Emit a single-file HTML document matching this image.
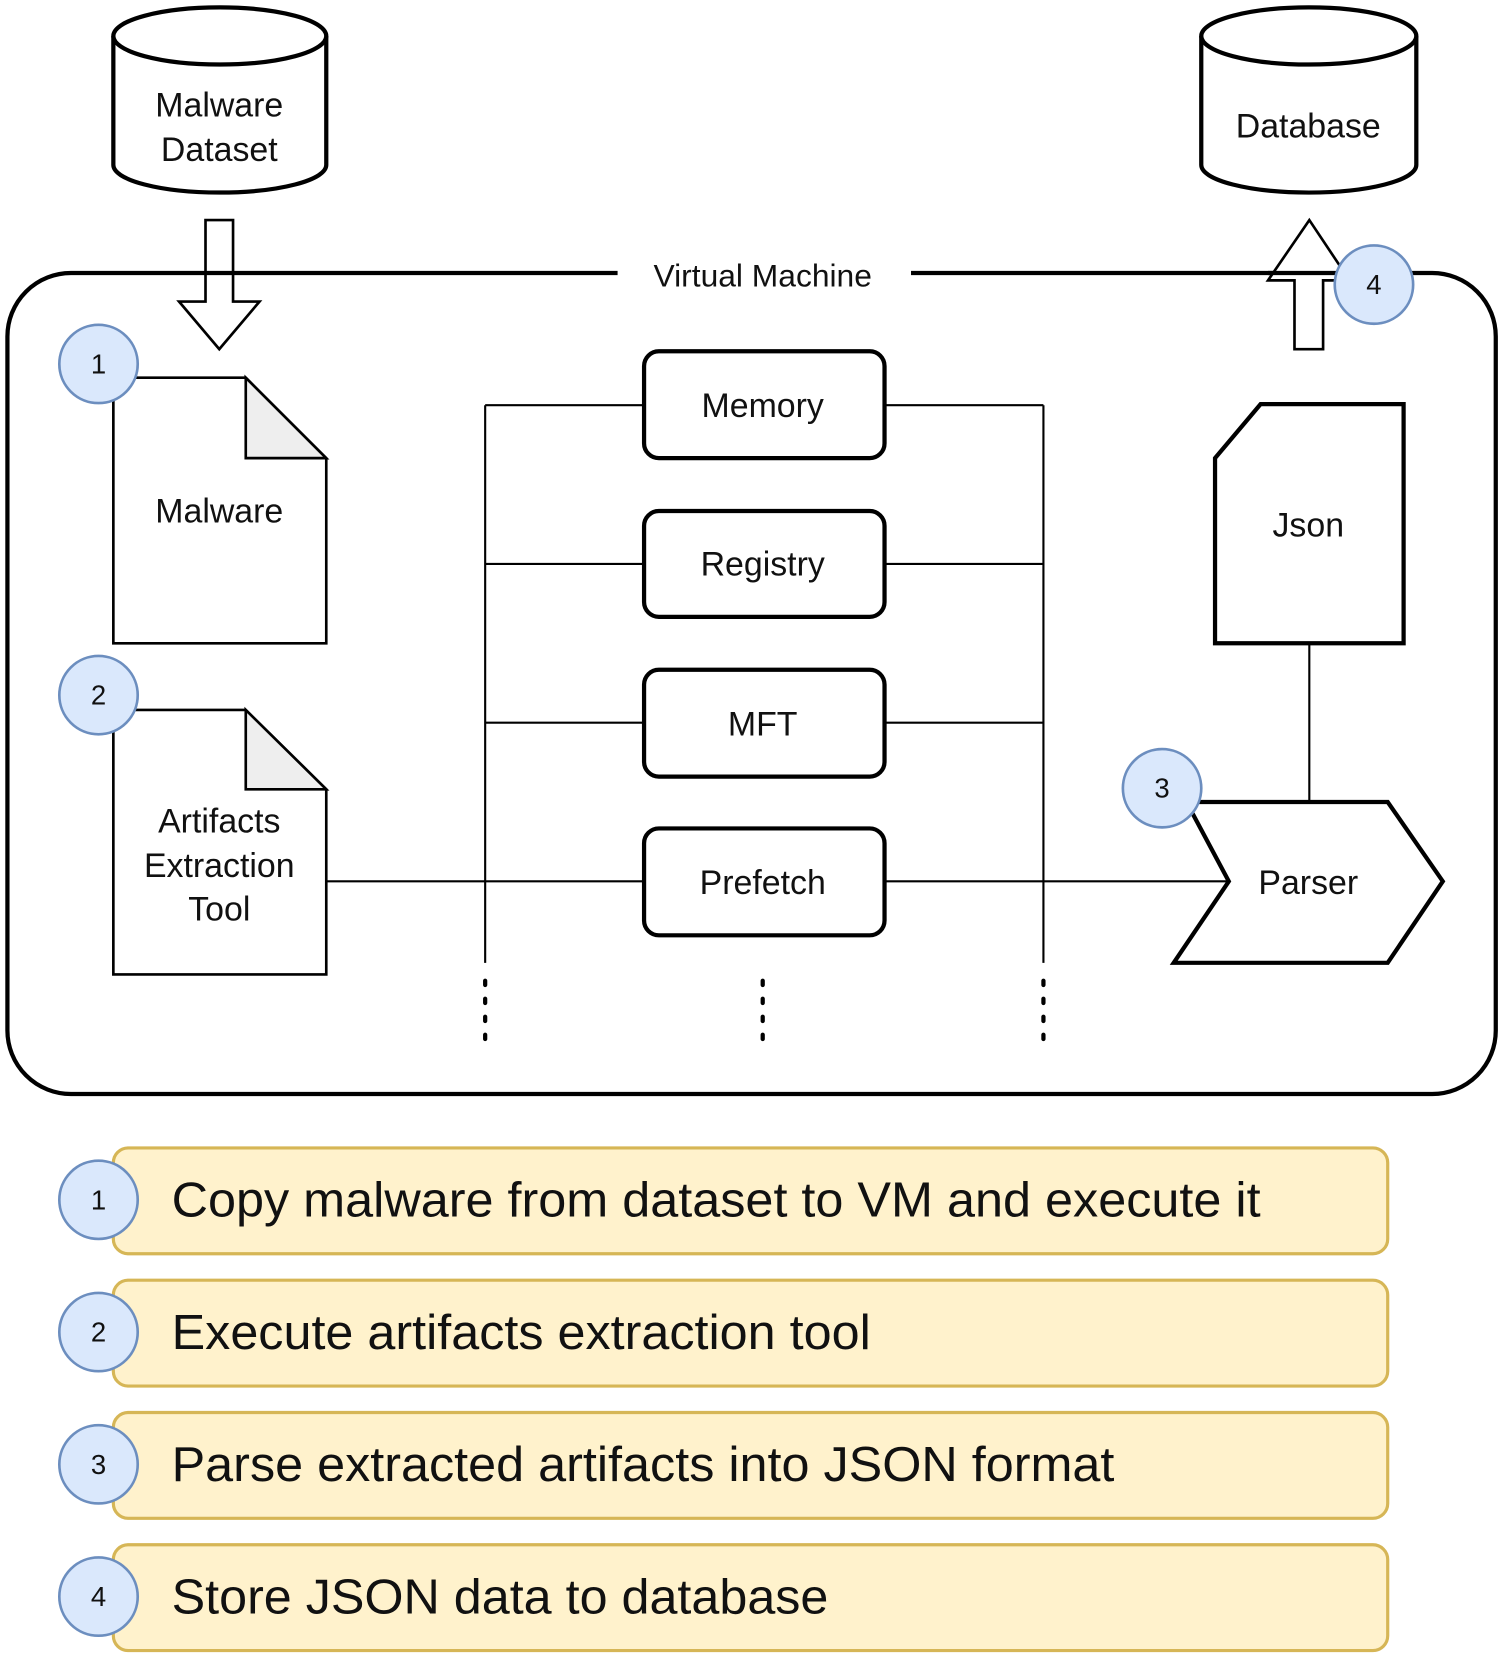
<!DOCTYPE html>
<html><head><meta charset="utf-8"><style>html,body{margin:0;padding:0;background:#fff}svg{display:block}</style></head>
<body>
<svg width="1500" height="1659" viewBox="0 0 1416 1568" preserveAspectRatio="none" xmlns="http://www.w3.org/2000/svg" font-family="Liberation Sans, Arial, sans-serif">
<g fill="#fff" stroke="#000" stroke-width="4">
  <!-- Malware Dataset cylinder -->
  <path d="M107 34 V156 A100.5 26 0 0 0 308 156 V34"/>
  <ellipse cx="207.5" cy="34" rx="100.5" ry="27"/>
  <!-- Database cylinder -->
  <path d="M1134 34 V156 A101.5 26 0 0 0 1337 156 V34"/>
  <ellipse cx="1235.5" cy="34" rx="101.5" ry="27"/>
</g>
<g font-size="32" fill="#111" text-anchor="middle">
  <text x="207" y="110">Malware</text>
  <text x="207" y="152">Dataset</text>
  <text x="1235" y="130">Database</text>
</g>
<!-- VM container -->
<path d="M583 258 H67 A60 60 0 0 0 7 318 V974 A60 60 0 0 0 67 1034 H1352 A60 60 0 0 0 1412 974 V318 A60 60 0 0 0 1352 258 H860" fill="none" stroke="#000" stroke-width="4"/>
<text x="720" y="271" font-size="30" text-anchor="middle" fill="#111">Virtual Machine</text>
<!-- arrows -->
<path d="M194 208 H220 V285 H245 L207 330 L169 285 H194 Z" fill="none" stroke="#000" stroke-width="2.5"/>
<path d="M1222 330 H1249 V265 H1274 L1236 208 L1197 265 H1222 Z" fill="#fff" stroke="#000" stroke-width="2.5"/>
<line x1="1197" y1="258" x2="1274" y2="258" stroke="#000" stroke-width="4"/>
<rect x="1224" y="262" width="23" height="66" fill="#fff"/>
<!-- connectors -->
<g stroke="#000" stroke-width="2" fill="none">
  <line x1="458" y1="383" x2="458" y2="910"/>
  <line x1="985" y1="383" x2="985" y2="910"/>
  <line x1="458" y1="383" x2="608" y2="383"/><line x1="835" y1="383" x2="985" y2="383"/>
  <line x1="458" y1="533" x2="608" y2="533"/><line x1="835" y1="533" x2="985" y2="533"/>
  <line x1="458" y1="683" x2="608" y2="683"/><line x1="835" y1="683" x2="985" y2="683"/>
  <line x1="308" y1="833" x2="608" y2="833"/><line x1="835" y1="833" x2="1160" y2="833"/>
  <line x1="1236" y1="608" x2="1236" y2="758"/>
</g>
<g stroke="#000" stroke-width="4" stroke-dasharray="4 13" stroke-linecap="round">
  <line x1="458" y1="927" x2="458" y2="992"/>
  <line x1="720" y1="927" x2="720" y2="992"/>
  <line x1="985" y1="927" x2="985" y2="992"/>
</g>
<!-- documents -->
<g stroke="#000" stroke-width="2.5">
  <path d="M107 357 H232 L308 433 V608 H107 Z" fill="#fff"/>
  <path d="M232 357 V433 H308 Z" fill="#eeeeee"/>
  <path d="M107 671 H232 L308 746 V921 H107 Z" fill="#fff"/>
  <path d="M232 671 V746 H308 Z" fill="#eeeeee"/>
</g>
<g font-size="32" fill="#111" text-anchor="middle">
  <text x="207" y="494">Malware</text>
  <text x="207" y="787">Artifacts</text>
  <text x="207" y="829">Extraction</text>
  <text x="207" y="870">Tool</text>
</g>
<!-- boxes -->
<g fill="#fff" stroke="#000" stroke-width="4">
  <rect x="608" y="332" width="227" height="101" rx="14"/>
  <rect x="608" y="483" width="227" height="100" rx="14"/>
  <rect x="608" y="633" width="227" height="101" rx="14"/>
  <rect x="608" y="783" width="227" height="101" rx="14"/>
  <path d="M1147 433 L1190 382 H1325 V608 H1147 Z"/>
  <path d="M1120 758 H1310 L1362 833 L1310 910 H1108 L1160 833 Z"/>
</g>
<g font-size="32" fill="#111" text-anchor="middle">
  <text x="720" y="394">Memory</text>
  <text x="720" y="544">Registry</text>
  <text x="720" y="695">MFT</text>
  <text x="720" y="845">Prefetch</text>
  <text x="1235" y="507">Json</text>
  <text x="1235" y="845">Parser</text>
</g>
<!-- bottom list -->
<g fill="#fff2cc" stroke="#d6b656" stroke-width="3">
  <rect x="107" y="1085" width="1203" height="100" rx="14"/>
  <rect x="107" y="1210" width="1203" height="100" rx="14"/>
  <rect x="107" y="1335" width="1203" height="100" rx="14"/>
  <rect x="107" y="1460" width="1203" height="100" rx="14"/>
</g>
<g font-size="46" fill="#111">
  <text x="162" y="1150" textLength="1028" lengthAdjust="spacingAndGlyphs">Copy malware from dataset to VM and execute it</text>
  <text x="162" y="1275" textLength="660" lengthAdjust="spacingAndGlyphs">Execute artifacts extraction tool</text>
  <text x="162" y="1400" textLength="890" lengthAdjust="spacingAndGlyphs">Parse extracted artifacts into JSON format</text>
  <text x="162" y="1525" textLength="620" lengthAdjust="spacingAndGlyphs">Store JSON data to database</text>
</g>
<!-- numbered circles -->
<g fill="#dae8fc" stroke="#6c8ebf" stroke-width="2.5">
  <circle cx="93" cy="344" r="37"/>
  <circle cx="93" cy="657" r="37"/>
  <circle cx="1097" cy="745" r="37"/>
  <circle cx="1297" cy="269" r="37"/>
  <circle cx="93" cy="1134" r="37"/>
  <circle cx="93" cy="1259" r="37"/>
  <circle cx="93" cy="1384" r="37"/>
  <circle cx="93" cy="1509" r="37"/>
</g>
<g font-size="26" fill="#111" text-anchor="middle">
  <text x="93" y="353">1</text>
  <text x="93" y="666">2</text>
  <text x="1097" y="754">3</text>
  <text x="1297" y="278">4</text>
  <text x="93" y="1143">1</text>
  <text x="93" y="1268">2</text>
  <text x="93" y="1393">3</text>
  <text x="93" y="1518">4</text>
</g>
</svg>
</body></html>
